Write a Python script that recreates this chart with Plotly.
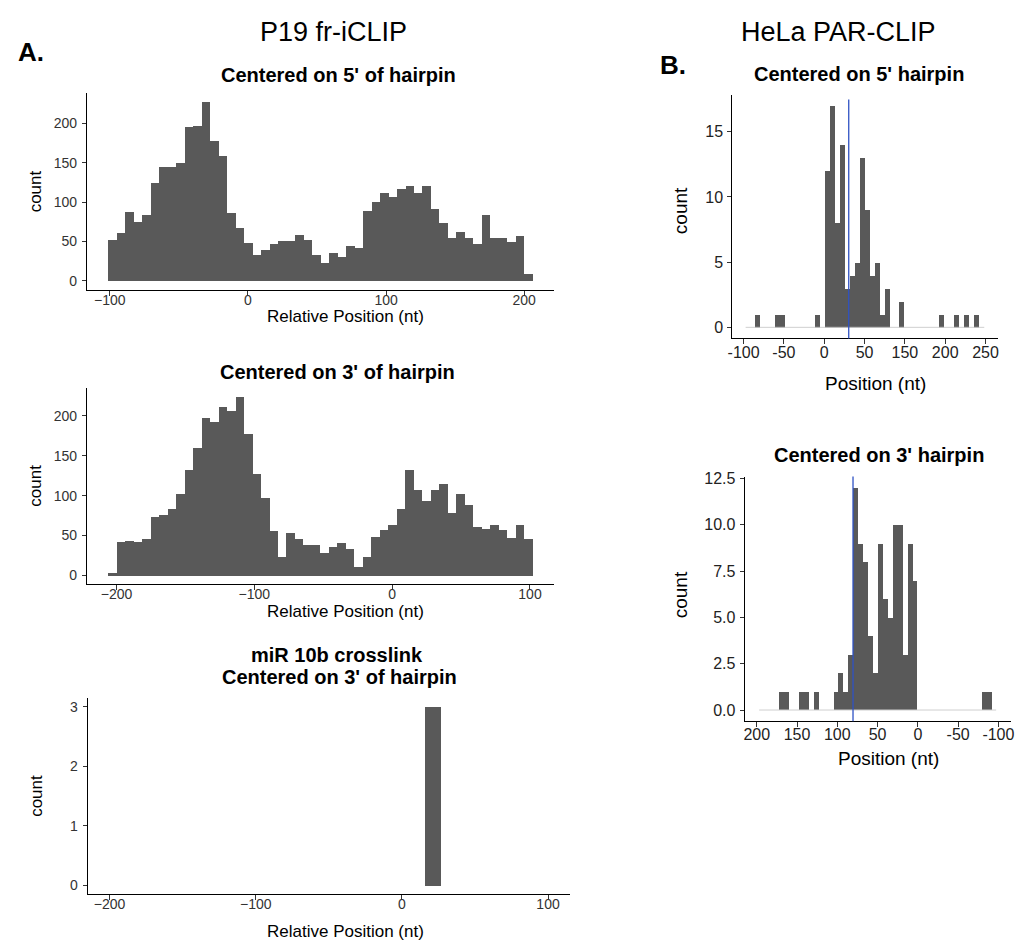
import plotly.graph_objects as go

W, H = 1026, 941
FONT = "Liberation Sans, Arial, sans-serif"
BAR = "#595959"

# ---------------- data ----------------
# Panel A1: centered on 5' of hairpin (50 bins)
a1_bin_start = -101.2
a1_bin_width = 6.15
a1_counts = [52, 61, 87, 75, 84, 124, 144, 144, 149, 195,
             197, 227, 178, 159, 86, 67, 48, 33, 39, 47,
             51, 51, 58, 52, 33, 23, 35, 30, 44, 42,
             89, 100, 112, 106, 117, 120, 111, 121, 91, 74,
             54, 62, 54, 47, 83, 55, 55, 49, 57, 9]

# Panel A2: centered on 3' of hairpin (50 bins)
a2_bin_start = -206.1
a2_bin_width = 6.16
a2_counts = [3, 42, 44, 42, 46, 73, 76, 84, 103, 132,
             160, 198, 193, 212, 207, 224, 178, 128, 97, 56,
             23, 53, 46, 39, 38, 28, 36, 41, 33, 11,
             23, 49, 57, 63, 83, 133, 107, 94, 107, 115,
             78, 102, 88, 61, 59, 64, 57, 47, 63, 46]

# Panel A3: miR 10b crosslink
a3_bin_start = 15.6
a3_bin_width = 10.9
a3_counts = [3]

# Panel B1: HeLa centered on 5' hairpin (48 bins)
b1_bin_start = -97.44
b1_bin_width = 6.165
b1_counts = [0, 0, 1, 0, 0, 0, 1, 1, 0, 0,
             0, 0, 0, 0, 1, 0, 12, 17, 8, 14,
             3, 4, 5, 13, 9, 4, 5, 1, 3, 0,
             0, 2, 0, 0, 0, 0, 0, 0, 0, 1,
             0, 0, 1, 0, 1, 0, 1, 0]
b1_vline = 30.4

# Panel B2: HeLa centered on 3' hairpin (48 bins)
b2_bin_start = -97.2
b2_bin_width = 6.13
b2_counts = [0, 1, 1, 0, 0, 0, 0, 0, 0, 0,
             0, 0, 0, 0, 0, 0, 7, 9, 3, 10,
             10, 5, 6, 9, 2, 4, 8, 9, 12, 3,
             1, 2, 1, 0, 0, 0, 1, 0, 1, 1,
             0, 0, 1, 1, 0, 0, 0, 0]
b2_vline = 80.5

a1_xticks = [-100, 0, 100, 200]
a1_xticktext = ["\u2212100", "0", "100", "200"]
a23_xticks = [-200, -100, 0, 100]
a23_xticktext = ["\u2212200", "\u2212100", "0", "100"]
a_yticks = [0, 50, 100, 150, 200]
a3_yticks = [0, 1, 2, 3]
b1_xtickvals = [-100, -50, 0, 50, 100, 150, 200]
b1_xticktext = ["-100", "-50", "0", "50", "150", "200", "250"]
b1_yticks = [0, 5, 10, 15]
b2_xtickvals = [200, 150, 100, 50, 0, -50, -100]
b2_xticktext = ["200", "150", "100", "50", "0", "-50", "-100"]
b2_yticks = [0, 2.5, 5, 7.5, 10, 12.5]
b2_yticktext = ["0.0", "2.5", "5.0", "7.5", "10.0", "12.5"]


def centers(start, width, n):
    return [start + width * (i + 0.5) for i in range(n)]


def dx(a, b):
    return [a / W, b / W]


def dy(top, bottom):
    return [1 - bottom / H, 1 - top / H]


fig = go.Figure()


def add_hist(start, width, counts, xa, ya):
    fig.add_trace(go.Bar(x=centers(start, width, len(counts)), y=counts, width=width,
                         marker=dict(color=BAR, line=dict(width=0)),
                         xaxis=xa, yaxis=ya, showlegend=False, hoverinfo="x+y"))


def add_base(start, width, counts, xa, ya):
    fig.add_trace(go.Scatter(x=[start, start + width * len(counts)], y=[0, 0], mode="lines",
                             line=dict(color="#cfcfcf", width=1), xaxis=xa, yaxis=ya,
                             showlegend=False, hoverinfo="skip"))


add_hist(a1_bin_start, a1_bin_width, a1_counts, "x", "y")
add_hist(a2_bin_start, a2_bin_width, a2_counts, "x2", "y2")
add_hist(a3_bin_start, a3_bin_width, a3_counts, "x3", "y3")
add_base(b1_bin_start, b1_bin_width, b1_counts, "x4", "y4")
add_hist(b1_bin_start, b1_bin_width, b1_counts, "x4", "y4")
add_base(b2_bin_start, b2_bin_width, b2_counts, "x5", "y5")
add_hist(b2_bin_start, b2_bin_width, b2_counts, "x5", "y5")

axis_common = dict(showline=True, linecolor="#000000", linewidth=1.1, ticks="outside",
                   tickcolor="#333333", tickwidth=1, showgrid=False, zeroline=False,
                   fixedrange=True)
left_tick = dict(family=FONT, size=14, color="#333333")
right_tick = dict(family=FONT, size=16, color="#222222")
lx = dict(ticklen=5, tickfont=left_tick, ticklabelstandoff=-8)
ly = dict(ticklen=4, tickfont=left_tick, ticklabelstandoff=2)
rx = dict(ticklen=5, tickfont=right_tick, ticklabelstandoff=-6)
ry = dict(ticklen=4, tickfont=right_tick, ticklabelstandoff=1)

layout = dict(
    width=W, height=H, margin=dict(l=0, r=0, t=0, b=0),
    paper_bgcolor="white", plot_bgcolor="white", showlegend=False,
    font=dict(family=FONT, color="#000000"),
    bargap=0,
    xaxis=dict(domain=dx(82.6, 553), range=[-116.6, 221.4], tickvals=a1_xticks,
               ticktext=a1_xticktext, anchor="y", **lx, **axis_common),
    yaxis=dict(domain=dy(86.7, 285), range=[-11.35, 238.35], tickvals=a_yticks,
               anchor="x", **ly, **axis_common),
    xaxis2=dict(domain=dx(82.6, 553), range=[-221.5, 117.2], tickvals=a23_xticks,
                ticktext=a23_xticktext, anchor="y2", **lx, **axis_common),
    yaxis2=dict(domain=dy(383.6, 581.7), range=[-11.2, 235.2], tickvals=a_yticks,
                anchor="x2", **ly, **axis_common),
    xaxis3=dict(domain=dx(83.3, 569.4), range=[-215, 115], tickvals=a23_xticks,
                ticktext=a23_xticktext, anchor="y3", **lx, **axis_common),
    yaxis3=dict(domain=dy(696, 894), range=[-0.15, 3.15], tickvals=a3_yticks,
                anchor="x3", **ly, **axis_common),
    xaxis4=dict(domain=dx(733, 1000.4), range=[-114, 215], tickvals=b1_xtickvals,
                ticktext=b1_xticktext, anchor="y4", **rx, **axis_common),
    yaxis4=dict(domain=dy(88.3, 333.9), range=[-0.85, 17.85], tickvals=b1_yticks,
                anchor="x4", **ry, **axis_common),
    xaxis5=dict(domain=dx(745.5, 1014.2), range=[215, -116], tickvals=b2_xtickvals,
                ticktext=b2_xticktext, anchor="y5", **rx, **axis_common),
    yaxis5=dict(domain=dy(473.1, 719.5), range=[-0.6, 12.6], tickvals=b2_yticks,
                ticktext=b2_yticktext, anchor="x5", **ry, **axis_common),
)
fig.update_layout(**layout)

fig.add_shape(type="line", xref="x4", yref="y4 domain", x0=b1_vline, x1=b1_vline, y0=0, y1=0.98,
              line=dict(color="#2f52c4", width=1.3), layer="above")
fig.add_shape(type="line", xref="x5", yref="y5 domain", x0=b2_vline, x1=b2_vline, y0=0, y1=1,
              line=dict(color="#2f52c4", width=1.3), layer="above")


def text(s, px, py, size, angle=0, color="#000000"):
    fig.add_annotation(text=s, x=px / W, y=1 - py / H, xref="paper", yref="paper",
                       xanchor="center", yanchor="middle", showarrow=False, textangle=angle,
                       font=dict(family=FONT, size=size, color=color))


text("P19 fr-iCLIP", 331, 25, 27)
text("HeLa PAR-CLIP", 840, 25, 27)
text("<b>A.</b>", 26, 45, 26)
text("<b>B.</b>", 673, 58, 26)

text("<b>Centered on 5' of hairpin</b>", 336, 69, 20)
text("<b>Centered on 3' of hairpin</b>", 335, 368, 20)
text("<b>miR 10b crosslink</b>", 335, 653, 20)
text("<b>Centered on 3' of hairpin</b>", 337, 675, 20)
text("<b>Centered on 5' hairpin</b>", 861, 67, 20)
text("<b>Centered on 3' hairpin</b>", 881, 451, 20)

for cy in (186, 482.5, 795):
    text("count", 31, cy, 17, angle=-90)
for cy in (312, 609, 931):
    text("Relative Position (nt)", 343.5, cy, 17)

text("count", 681, 205, 19, angle=-90)
text("count", 681, 592, 19, angle=-90)
text("Position (nt)", 877.5, 379, 19)
text("Position (nt)", 890.5, 757, 19)

fig.write_html("out.html")
